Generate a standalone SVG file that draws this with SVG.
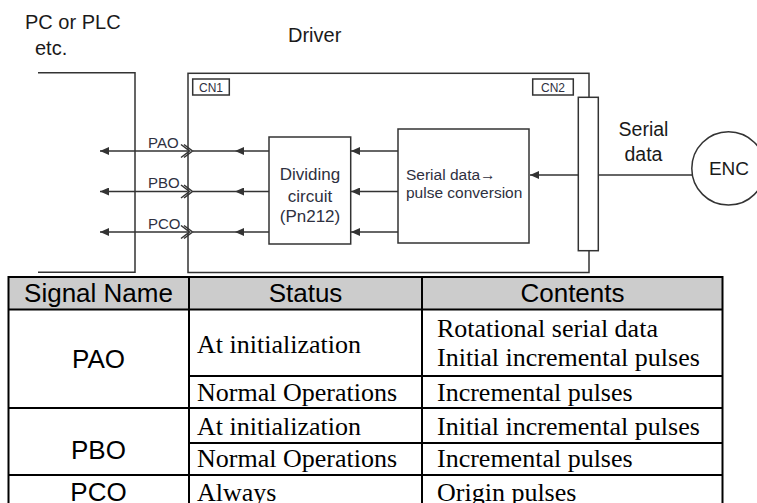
<svg xmlns="http://www.w3.org/2000/svg" width="757" height="503" viewBox="0 0 757 503">
<style>
.ln{fill:none;stroke:#333;stroke-width:1.5}
.box{fill:#fff;stroke:#333;stroke-width:1.5}
.sans{font-family:"Liberation Sans",Arial,sans-serif;fill:#1a1a1a}
.lbl{font-family:"Liberation Sans",Arial,sans-serif;fill:#2e3040}
.tb{fill:none;stroke:#000;stroke-width:2}
.hd{font-family:"Liberation Sans",Arial,sans-serif;font-size:26px;fill:#000;text-anchor:middle}
.tx{font-family:"Liberation Serif","Times New Roman",serif;font-size:26px;fill:#000}
</style>
<defs>
<marker id="ah" markerUnits="userSpaceOnUse" markerWidth="10" markerHeight="8" refX="9" refY="4" orient="auto">
<path d="M0,0 L9,4 L0,8 z" fill="#333"/>
</marker>
</defs>
<g id="pc">
<polyline class="ln" points="38,72.7 135,72.7 135,272.3 38,272.3"/>
<text class="sans" x="25" y="28.5" font-size="20">PC or PLC</text>
<text class="sans" x="35" y="54.5" font-size="20">etc.</text>
</g>
<g id="driver">
<rect class="ln" x="188" y="73.3" width="401" height="199.2"/>
<text class="sans" x="288" y="41.7" font-size="20">Driver</text>
</g>
<g id="cn1">
<rect class="ln" x="192.7" y="79" width="36.6" height="16" stroke-width="1.7"/>
<text class="lbl" x="211" y="91.8" font-size="12" text-anchor="middle">CN1</text>
</g>
<g id="cn2">
<rect class="ln" x="532.7" y="79" width="40.6" height="16" stroke-width="1.7"/>
<text class="lbl" x="553" y="91.8" font-size="12" text-anchor="middle">CN2</text>
</g>
<g id="strip">
<rect class="box" x="578.3" y="97.3" width="20" height="153.4"/>
</g>
<g id="dividing">
<rect class="box" x="269" y="137" width="81.7" height="107"/>
<text class="lbl" x="310" y="180" font-size="17" text-anchor="middle">Dividing</text>
<text class="lbl" x="310" y="201.5" font-size="17" text-anchor="middle">circuit</text>
<text class="lbl" x="310" y="222" font-size="17" text-anchor="middle">(Pn212)</text>
</g>
<g id="conversion">
<rect class="box" x="398" y="129" width="131" height="114"/>
<text class="lbl" x="406" y="180" font-size="15.5">Serial data→</text>
<text class="lbl" x="406" y="198" font-size="15.5">pulse conversion</text>
</g>
<g id="enc">
<circle class="box" cx="728.5" cy="168.4" r="36.7"/>
<text class="sans" x="729" y="174.5" font-size="19" text-anchor="middle">ENC</text>
</g>
<g id="connectors">
<path class="ln" d="M187,151 H100" marker-end="url(#ah)"/>
<path class="ln" d="M187,191.5 H100" marker-end="url(#ah)"/>
<path class="ln" d="M187,232 H100" marker-end="url(#ah)"/>
<path class="ln" d="M181,144.5 L189.5,151 L181,157.5 M184,144.5 L192.5,151 L184,157.5"/>
<path class="ln" d="M181,185 L189.5,191.5 L181,198 M184,185 L192.5,191.5 L184,198"/>
<path class="ln" d="M181,225.5 L189.5,232 L181,238.5 M184,225.5 L192.5,232 L184,238.5"/>
<path class="ln" d="M269,151 L235,151 L193,151" marker-mid="url(#ah)"/>
<path class="ln" d="M269,191.5 L235,191.5 L193,191.5" marker-mid="url(#ah)"/>
<path class="ln" d="M269,232 L235,232 L193,232" marker-mid="url(#ah)"/>
<path class="ln" d="M398,151 H351" marker-end="url(#ah)"/>
<path class="ln" d="M398,191.5 H351" marker-end="url(#ah)"/>
<path class="ln" d="M398,232 H351" marker-end="url(#ah)"/>
<path class="ln" d="M578.3,175 H530" marker-end="url(#ah)"/>
<path class="ln" d="M598.3,175 H692"/>
<text class="lbl" x="148" y="147.5" font-size="15">PAO</text>
<text class="lbl" x="148" y="188" font-size="15">PBO</text>
<text class="lbl" x="148" y="228.5" font-size="15">PCO</text>
<text class="sans" x="643.5" y="136" font-size="19.5" text-anchor="middle">Serial</text>
<text class="sans" x="643.5" y="161" font-size="19.5" text-anchor="middle">data</text>
</g>
<g id="table">
<rect x="8.5" y="277" width="714" height="32.5" fill="#cccccc"/>
<rect class="tb" x="8.5" y="277" width="714" height="240"/>
<path class="tb" d="M8.5,309.5 H722.5 M189,376 H722.5 M8.5,408 H722.5 M189,443 H722.5 M8.5,475 H722.5 M189,277 V517 M422,277 V517"/>
<text class="hd" x="98.5" y="302">Signal Name</text>
<text class="hd" x="305.5" y="302">Status</text>
<text class="hd" x="572.5" y="302">Contents</text>
<text class="hd" x="98.5" y="368">PAO</text>
<text class="hd" x="98.5" y="459">PBO</text>
<text class="hd" x="98.5" y="501">PCO</text>
<text class="tx" x="197" y="353">At initialization</text>
<text class="tx" x="197" y="401">Normal Operations</text>
<text class="tx" x="197" y="435">At initialization</text>
<text class="tx" x="197" y="467">Normal Operations</text>
<text class="tx" x="197" y="501">Always</text>
<text class="tx" x="437" y="337">Rotational serial data</text>
<text class="tx" x="437" y="366">Initial incremental pulses</text>
<text class="tx" x="437" y="401">Incremental pulses</text>
<text class="tx" x="437" y="435">Initial incremental pulses</text>
<text class="tx" x="437" y="467">Incremental pulses</text>
<text class="tx" x="437" y="501">Origin pulses</text>
</g>
</svg>
